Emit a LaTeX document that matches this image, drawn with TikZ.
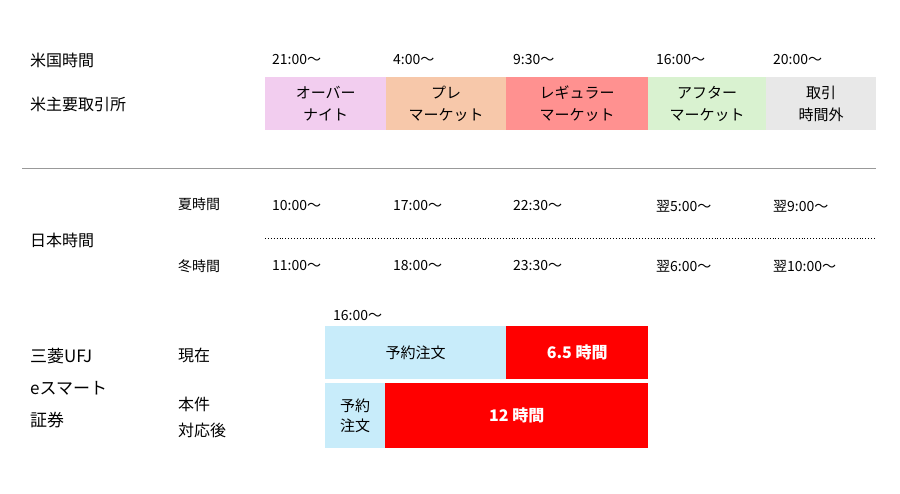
\documentclass[tikz,border=0pt]{standalone}
\usepackage{fontspec}
\setmainfont{Noto Sans CJK JP}
\begin{document}
\begin{tikzpicture}[x=1pt,y=-1pt,
  lab/.style={anchor=west,font=\fontsize{16}{20}\selectfont,inner sep=0},
  tm/.style={anchor=west,font=\fontsize{14}{17}\selectfont,inner sep=0},
  box/.style={draw=none,minimum height=53,inner sep=0,anchor=north west,align=center,font=\fontsize{15}{22}\selectfont},
  red/.style={box,fill=cRed,text=white,font=\fontsize{16}{20}\selectfont\bfseries}]
\definecolor{cPink}{HTML}{F2CDEF}
\definecolor{cPeach}{HTML}{F7C8AA}
\definecolor{cSalmon}{HTML}{FF9190}
\definecolor{cGreen}{HTML}{D9F2D0}
\definecolor{cGray}{HTML}{E8E8E8}
\definecolor{cBlue}{HTML}{C8ECFA}
\definecolor{cRed}{HTML}{FF0000}
\useasboundingbox (0,0) rectangle (900,493);
\node[lab] (us) at (30,60) {米国時間};
\node[lab] (ex) at (30,104) {米主要取引所};
\foreach \n/\x/\t in {a/272/21:00～,b/393/4:00～,c/513/9:30～,d/656/16:00～,e/773/20:00～}
  \node[tm] (u\n) at (\x,60) {\t};
\node[box,fill=cPink,minimum width=121] (b1) at (265,77) {オーバー\\ナイト};
\node[box,fill=cPeach,minimum width=120] (b2) at (386,77) {プレ\\マーケット};
\node[box,fill=cSalmon,minimum width=142] (b3) at (506,77) {レギュラー\\マーケット};
\node[box,fill=cGreen,minimum width=118] (b4) at (648,77) {アフター\\マーケット};
\node[box,fill=cGray,minimum width=110] (b5) at (766,77) {取引\\時間外};
\coordinate (l1) at (22,168); \coordinate (l2) at (876,168);
\draw[gray!80,line width=0.8] (l1) -- (l2);
\node[tm] (sum) at (178,204) {夏時間};
\node[lab] (jp) at (30,240) {日本時間};
\node[tm] (win) at (178,266) {冬時間};
\foreach \n/\x/\t in {a/272/10:00～,b/393/17:00～,c/513/22:30～,d/656/翌5:00～,e/773/翌9:00～}
  \node[tm] (s\n) at (\x,206) {\t};
\foreach \n/\x/\t in {a/272/11:00～,b/393/18:00～,c/513/23:30～,d/656/翌6:00～,e/773/翌10:00～}
  \node[tm] (w\n) at (\x,266) {\t};
\coordinate (d1) at (265,238); \coordinate (d2) at (876,238);
\draw[dotted,line width=0.9] (d1) -- (d2);
\node[lab,align=left,font=\fontsize{17}{32}\selectfont] (mu) at (30,388) {三菱UFJ\\eスマート\\証券};
\node[lab] (now) at (178,355) {現在};
\node[lab,align=left,font=\fontsize{16}{26}\selectfont] (aft) at (178,417) {本件\\対応後};
\node[tm] (t16) at (333,316) {16:00～};
\node[box,fill=cBlue,minimum width=181] (r1) at (325,326) {予約注文};
\node[red,minimum width=142] (r2) at (506,326) {6.5 時間};
\node[box,fill=cBlue,minimum width=60,minimum height=65,font=\fontsize{15}{20}\selectfont] (r3) at (325,383) {予約\\注文};
\node[red,minimum width=263,minimum height=65] (r4) at (385,383) {12 時間};
\end{tikzpicture}
\end{document}
